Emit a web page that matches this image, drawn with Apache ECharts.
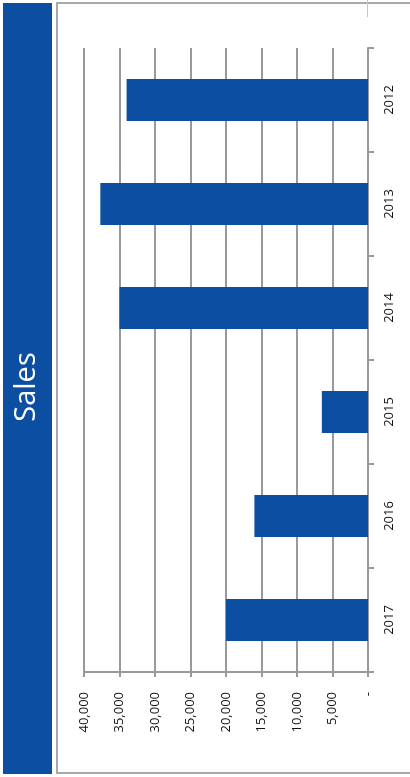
<!DOCTYPE html>
<html>
<head>
<meta charset="utf-8">
<script src="https://cdn.jsdelivr.net/npm/echarts@6/dist/echarts.min.js"></script>
<style>
  html, body { margin: 0; padding: 0; background: #fff; }
  #chart { width: 410px; height: 777px; }
</style>
</head>
<body>
<div id="chart"></div>
<script>
// sales per year
var years = ['2012', '2013', '2014', '2015', '2016', '2017']
var sales = [34000, 37700, 35000, 6500, 16000, 20000]
var title = 'Sales'

var blue = '#0B4EA2'
var myChart = echarts.init(document.getElementById('chart'))

var option = {
    animation: false,
    textStyle: { fontFamily: 'Open Sans' },
    graphic: [
        { type: 'rect', shape: { x: 3, y: 3, width: 49, height: 771 }, style: { fill: blue } },
        { type: 'rect', shape: { x: 57, y: 3, width: 380, height: 770 }, style: { fill: 'none', stroke: '#a9a9a9', lineWidth: 2 } },
        { type: 'line', shape: { x1: 367.5, y1: 0, x2: 367.5, y2: 17 }, style: { stroke: '#b9c5dd', lineWidth: 1 } },
        {
            type: 'text', x: 27, y: 387, rotation: Math.PI / 2,
            style: { text: title, fill: '#fff', font: '29px "Open Sans"', align: 'center', verticalAlign: 'middle' }
        }
    ],
    grid: { left: 84, right: 42, top: 48, bottom: 105 },
    xAxis: {
        type: 'value',
        inverse: true,
        min: 0,
        max: 40000,
        interval: 5000,
        axisLine: { show: true, lineStyle: { color: '#999', width: 2 } },
        axisTick: { show: true, length: 5, lineStyle: { color: '#999', width: 2 } },
        splitLine: { lineStyle: { color: '#999', width: 2 } },
        axisLabel: {
            rotate: 90,
            margin: 20,
            color: '#111',
            fontSize: 13,
            formatter: function (v) { return v === 0 ? '-' : v.toLocaleString('en-US') }
        }
    },
    yAxis: {
        type: 'category',
        position: 'right',
        inverse: true,
        data: years,
        axisLine: { show: true, lineStyle: { color: '#999', width: 2 } },
        axisTick: { show: true, length: 6, lineStyle: { color: '#999', width: 2 } },
        axisLabel: { rotate: 90, margin: 15, color: '#111', fontSize: 13 }
    },
    series: [{
        type: 'bar',
        data: sales,
        barWidth: 42,
        itemStyle: { color: blue }
    }]
}
myChart.setOption(option)
</script>
</body>
</html>
